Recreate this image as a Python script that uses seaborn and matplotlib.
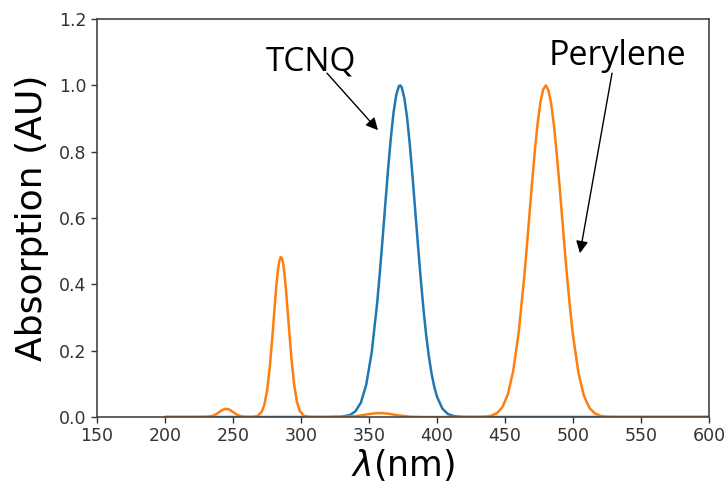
import matplotlib
matplotlib.use("Agg")
import matplotlib.pyplot as plt
import pandas as pd
import seaborn as sns

# Absorption spectra (wavelength in nm, absorption in AU)
tcnq_wavelength = [200, 250, 300, 320, 330, 336, 340, 344, 348, 352, 356, 358, 360, 362, 364,
                   366, 368, 370, 372, 373, 374, 376, 378, 380, 382, 384, 386, 388, 390, 392,
                   394, 396, 398, 400, 404, 408, 412, 416, 420, 430, 450, 500, 550, 600]
tcnq_absorption = [0.0, 0.0, 0.0, 0.0, 0.001, 0.006, 0.017, 0.043, 0.098, 0.195, 0.344, 0.437,
                   0.538, 0.643, 0.746, 0.839, 0.917, 0.971, 0.998, 1.0, 0.995, 0.962, 0.903,
                   0.822, 0.726, 0.622, 0.518, 0.418, 0.327, 0.248, 0.183, 0.131, 0.091, 0.061,
                   0.025, 0.009, 0.003, 0.001, 0.0002, 0.0, 0.0, 0.0, 0.0, 0.0]

perylene_wavelength = [200, 210, 220, 230, 235, 238, 241, 244, 247, 250, 253, 256, 260, 265,
                       268, 271, 273, 275, 277, 279, 280, 281, 282, 283, 284, 285, 286, 287,
                       288, 289, 290, 291, 293, 295, 297, 299, 302, 306, 312, 320, 330, 340,
                       350, 355, 360, 365, 370, 380, 390, 400, 410, 420, 430, 436, 440, 444,
                       448, 452, 456, 460, 464, 466, 468, 470, 472, 474, 476, 478, 480, 482,
                       484, 486, 488, 490, 492, 494, 496, 498, 500, 504, 508, 512, 516, 520,
                       524, 528, 534, 540, 550, 560, 580, 600]
perylene_absorption = [0.0, 0.0, 0.0, 0.0003, 0.0034, 0.0094, 0.018, 0.0245, 0.023, 0.015,
                       0.007, 0.002, 0.0003, 0.0004, 0.003, 0.0145, 0.036, 0.078, 0.148, 0.245,
                       0.298, 0.352, 0.401, 0.441, 0.469, 0.482, 0.479, 0.460, 0.426, 0.382,
                       0.330, 0.277, 0.175, 0.096, 0.046, 0.019, 0.004, 0.0003, 0.0, 0.0,
                       0.0002, 0.0024, 0.0087, 0.0115, 0.0118, 0.0094, 0.0058, 0.001, 0.0001,
                       0.0, 0.0, 0.0, 0.0002, 0.0012, 0.004, 0.0114, 0.029, 0.067, 0.138, 0.253,
                       0.416, 0.511, 0.612, 0.712, 0.805, 0.886, 0.948, 0.987, 1.0, 0.985,
                       0.943, 0.879, 0.796, 0.702, 0.602, 0.501, 0.407, 0.321, 0.246, 0.133,
                       0.0644, 0.028, 0.0109, 0.0038, 0.0012, 0.0003, 0.0, 0.0, 0.0, 0.0, 0.0,
                       0.0]

x_ticks = [150, 200, 250, 300, 350, 400, 450, 500, 550, 600]
y_ticks = [0.0, 0.2, 0.4, 0.6, 0.8, 1.0, 1.2]

tcnq = pd.DataFrame({"wavelength": tcnq_wavelength, "absorption": tcnq_absorption})
perylene = pd.DataFrame({"wavelength": perylene_wavelength, "absorption": perylene_absorption})

sns.set_style("ticks")
plt.rcParams["font.family"] = ["DejaVu Sans"]

fig = plt.figure(figsize=(7.26, 4.9), dpi=100)
ax = fig.add_axes([0.1336, 0.149, 0.843, 0.812])

sns.lineplot(data=tcnq, x="wavelength", y="absorption", color="#1f77b4", linewidth=1.8, ax=ax)
sns.lineplot(data=perylene, x="wavelength", y="absorption", color="#ff7f0e", linewidth=1.8, ax=ax)

ax.set_xlim(150, 600)
ax.set_ylim(0, 1.2)
ax.set_xticks(x_ticks)
ax.set_yticks(y_ticks)
ax.set_xticklabels([str(t) for t in x_ticks])
ax.set_yticklabels([f"{t:.1f}" for t in y_ticks])
ax.tick_params(labelsize=12.5, colors="#333333", length=4, width=1)
for spine in ax.spines.values():
    spine.set_color("#444444")
    spine.set_linewidth(1.2)

ax.set_xlabel(r"$\lambda$(nm)", fontsize=25, labelpad=1, color="black")
ax.set_ylabel("Absorption (AU)", fontsize=26, labelpad=7, color="black")

# labels with arrows
label_font = ["Open Sans", "DejaVu Sans"]
ax.text(307, 1.07, "TCNQ", fontsize=24, ha="center", va="center", color="black", family=label_font)
ax.text(532.4, 1.088, "Perylene", fontsize=24.5, ha="center", va="center", color="black", family=label_font)
arrow = dict(arrowstyle="-|>", color="black", lw=1.0, mutation_scale=18, shrinkA=0, shrinkB=0)
ax.annotate("", xy=(356.6, 0.865), xytext=(319.1, 1.037), arrowprops=arrow)
ax.annotate("", xy=(505.1, 0.494), xytext=(528.7, 1.037), arrowprops=arrow)

fig.savefig("out.png", dpi=100)
